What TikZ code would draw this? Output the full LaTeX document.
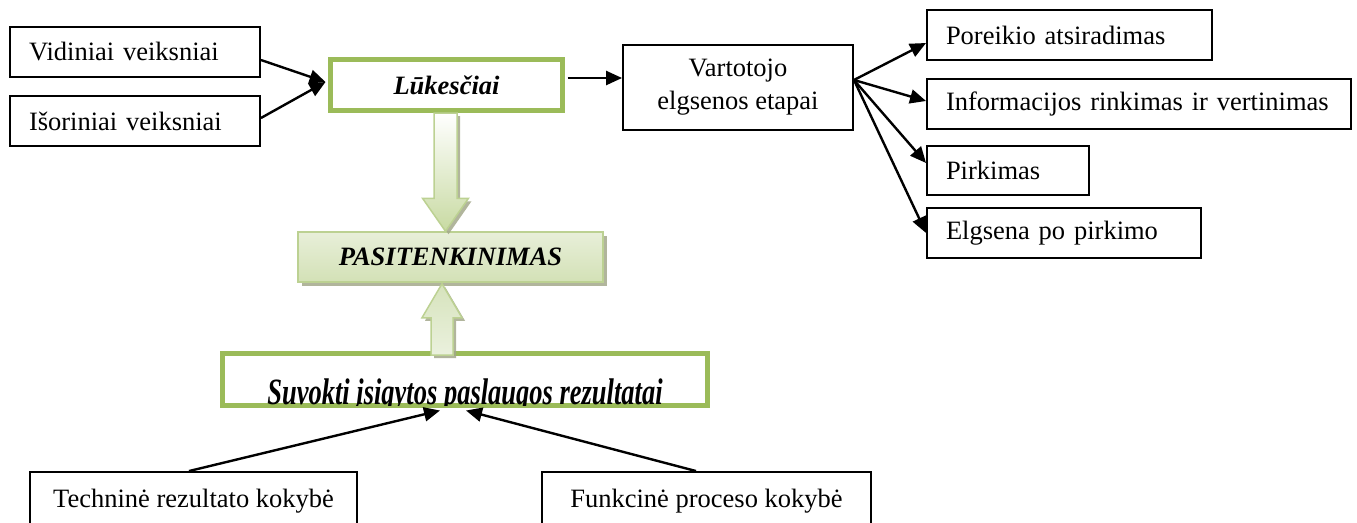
\documentclass[tikz,border=0pt]{standalone}
\usepackage{fontspec}
\setmainfont{Liberation Serif}
\usetikzlibrary{arrows.meta,calc,shadows}
\definecolor{gframe}{HTML}{9BBB59}
\definecolor{gline}{HTML}{BCD192}
\definecolor{gpale}{HTML}{D6E3BC}
\definecolor{gmid}{HTML}{C8DAA2}
\definecolor{gtop}{HTML}{E8EFD9}
\definecolor{gbot}{HTML}{D3E1B6}
\definecolor{shadecol}{HTML}{A3A88B}
\newcommand\txtsize{\fontsize{26.5}{33}\selectfont}

\begin{document}
\begin{tikzpicture}[x=1pt,y=-1pt,
  box/.style={draw=black, line width=1.9pt, fill=white, font=\txtsize,
    inner xsep=19pt, inner ysep=0pt, minimum height=50pt},
  gbox/.style={draw=gframe, line width=5pt, fill=white,
    font=\txtsize\bfseries\itshape, inner sep=0pt},
  pasbox/.style={draw=gline, line width=1.5pt, top color=gtop, middle color=white,
    bottom color=gbot, font=\txtsize\bfseries\itshape, inner sep=0pt,
    drop shadow={shadow xshift=4pt, shadow yshift=-4pt, fill=shadecol, opacity=0.85}},
  arr/.style={line width=2.4pt, -{Triangle[length=16pt,width=14pt]}},
  blockarrow/.style={draw=gline, line width=1.5pt,
    drop shadow={shadow xshift=3pt, shadow yshift=-3pt, fill=shadecol, opacity=0.85}},
]
\useasboundingbox (0,0) rectangle (1357,522);

% factors on the left
\node[box, text width=212pt, align=left] (vid) at (135,52) {Vidiniai veiksniai};
\node[box, text width=212pt, align=left] (isor) at (135,121) {Išoriniai veiksniai};

% expectations and consumer behaviour stages
\node[gbox, minimum width=232pt, minimum height=51pt] (luk) at (446.5,85) {Lūkesčiai};
\node[box, minimum width=230pt, minimum height=85pt, align=center, inner xsep=0pt]
  (vart) at (738,87.5) {Vartotojo\\elgsenos etapai};
\node[box, text width=247pt, align=left] (por) at (1069.5,35) {Poreikio atsiradimas};
\node[box, text width=386pt, align=left] (inf) at (1139,104) {Informacijos rinkimas ir vertinimas};
\node[box, text width=124pt, align=left, minimum height=49pt] (pirk) at (1008,170.5) {Pirkimas};
\node[box, text width=236pt, align=left] (elg) at (1064,233) {Elgsena po pirkimo};

% satisfaction
\node[pasbox, minimum width=305pt, minimum height=50pt] (pas) at (450.5,257) {PASITENKINIMAS};

% perceived results: the title runs into the lower frame edge
\node[gbox, minimum width=485pt, minimum height=52pt] (suv) at (465,379.5) {};
\begin{scope}
  \clip ([xshift=2.5pt,yshift=-2.5pt]suv.north west) rectangle ([xshift=-2.5pt,yshift=2.5pt]suv.south east);
  \node[font=\txtsize\bfseries\itshape, anchor=base, inner sep=0pt] (suvtxt)
    at ([yshift=4pt]suv.south) {\scalebox{1}[1.4]{Suvokti įsigytos paslaugos rezultatai}};
\end{scope}

% quality dimensions
\node[box, minimum width=327pt, minimum height=58pt, inner xsep=0pt] (tech) at (193.5,501) {Techninė rezultato kokybė};
\node[box, minimum width=329pt, minimum height=58pt, inner xsep=0pt] (funk) at (706.5,501) {Funkcinė proceso kokybė};

% connectors
\coordinate (lukin) at ([xshift=-2.5pt,yshift=3pt]luk.west);
\draw[arr] ([yshift=-8pt]vid.east) -- (lukin);
\draw[arr] ([yshift=3pt]isor.east) -- (lukin);
\coordinate (lukout) at ([xshift=2.5pt,yshift=7pt]luk.east);
\draw[arr] (lukout) -- (lukout -| vart.west);
\coordinate (vo) at ([yshift=7.5pt]vart.east);
\draw[arr] (vo) -- ([yshift=-8pt]por.west);
\draw[arr] (vo) -- ([yshift=3pt]inf.west);
\draw[arr] (vo) -- ([yshift=7.5pt]pirk.west);
\draw[arr] (vo) -- (elg.west);
\draw[arr] ([xshift=-4.5pt]tech.north) -- ([xshift=-25pt,yshift=-2.5pt]suv.south);
\draw[arr] ([xshift=-10.5pt]funk.north) -- ([xshift=1pt,yshift=-2.5pt]suv.south);

% block arrows
\coordinate (dT) at ([xshift=-1pt]luk.south);
\coordinate (dP) at (dT |- pas.north);
\path[blockarrow, top color=white, bottom color=gmid]
  ($(dT)+(-11.5,0)$) -- ($(dT)+(11.5,0)$) -- ($(dP)+(11.5,-33)$) -- ($(dP)+(23,-33)$)
  -- (dP) -- ($(dP)+(-23,-33)$) -- ($(dP)+(-11.5,-33)$) -- cycle;
\coordinate (uP) at ([xshift=-8.5pt,yshift=-1pt]pas.south);
\coordinate (uB) at (uP |- suv.north);
\path[blockarrow, top color=gpale, bottom color=white!50!gpale]
  (uP) -- ($(uP)+(20,34)$) -- ($(uP)+(11,34)$) -- ($(uB)+(11,4)$)
  -- ($(uB)+(-11,4)$) -- ($(uP)+(-11,34)$) -- ($(uP)+(-20,34)$) -- cycle;
\end{tikzpicture}
\end{document}
